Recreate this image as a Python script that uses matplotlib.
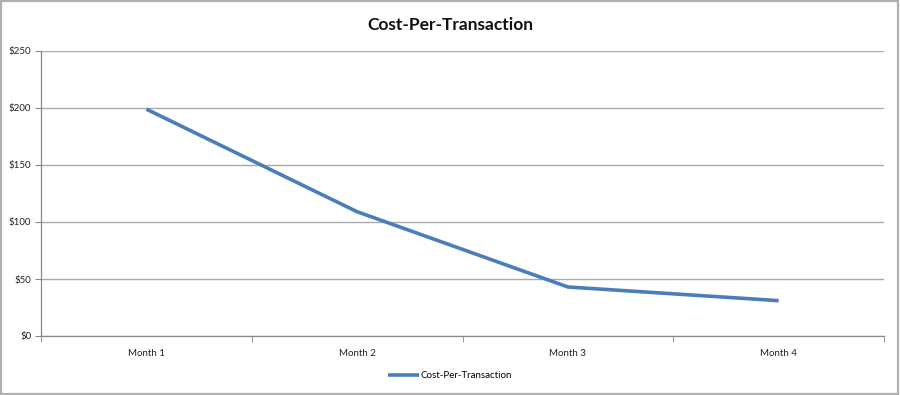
import matplotlib
matplotlib.use("Agg")
import matplotlib.pyplot as plt
from matplotlib.patches import Rectangle
from matplotlib.ticker import FixedLocator, NullFormatter

plt.rcParams['font.family'] = ['Lato', 'DejaVu Sans']

categories = ["Month 1", "Month 2", "Month 3", "Month 4"]
values = [199, 109, 43, 31]
series_name = "Cost-Per-Transaction"
y_ticks = [0, 50, 100, 150, 200, 250]
y_labels = ["$0", "$50", "$100", "$150", "$200", "$250"]

fig = plt.figure(figsize=(9, 3.95), dpi=100)
ax = fig.add_axes([41/900, 1-336/395, (884-41)/900, (336-51)/395])

x = list(range(len(categories)))
line, = ax.plot(x, values, color='#4A7EBB', lw=2.6, solid_capstyle='butt',
                label=series_name, zorder=3)

ax.set_xlim(-0.5, len(categories) - 0.5)
ax.set_ylim(0, 250)
ax.set_yticks(y_ticks)
ax.set_yticklabels(y_labels)
ax.set_xticks(x)
ax.set_xticklabels(categories)
ax.xaxis.set_minor_locator(FixedLocator([i - 0.5 for i in range(len(categories) + 1)]))
ax.xaxis.set_minor_formatter(NullFormatter())
ax.tick_params(axis='x', which='major', length=0, pad=9, labelsize=7, colors='#222222')
ax.tick_params(axis='x', which='minor', length=4, color='#888888', direction='out')
ax.tick_params(axis='y', length=4, color='#888888', labelsize=7, colors='#222222', pad=3)
ax.tick_params(axis='y', color='#888888')

ax.grid(axis='y', color='#AAAAAA', lw=1.0)
ax.set_axisbelow(True)
for s in ['top', 'right']:
    ax.spines[s].set_visible(False)
for s in ['left', 'bottom']:
    ax.spines[s].set_color('#888888')
    ax.spines[s].set_linewidth(0.9)

fig.text(0.5, 1 - 25/395, "Cost-Per-Transaction", ha='center', va='center',
         fontsize=12.5, fontweight='bold', color='#111111')

leg = fig.legend(handles=[line], loc='center', bbox_to_anchor=(450/900, 1 - 376/395),
                 frameon=False, fontsize=7, handlelength=3.2, handletextpad=0.1)

fig.patches.append(Rectangle((0.001, 0.002), 0.997, 0.995, transform=fig.transFigure,
                             fill=False, edgecolor='#B0B0B0', lw=1.6))

fig.savefig("out.png", dpi=100)
